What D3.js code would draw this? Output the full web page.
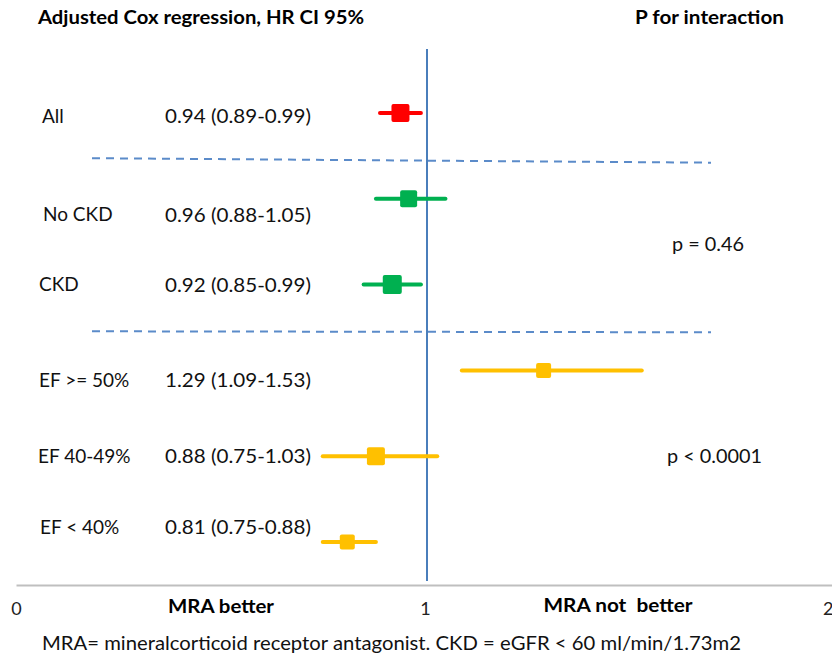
<!DOCTYPE html>
<html>
<head>
<meta charset="utf-8">
<script src="https://cdn.jsdelivr.net/npm/d3@7"></script>
<style>
  html, body { margin: 0; padding: 0; background: #fff; }
  svg { display: block; font-family: Lato, "Open Sans", sans-serif; }
</style>
</head>
<body>
<svg id="chart" width="832" height="659"></svg>
<script>
// ---- data ----
const categories = ["All", "No CKD", "CKD", "EF >= 50%", "EF 40-49%", "EF < 40%"];
const hr    = [0.94, 0.96, 0.92, 1.29, 0.88, 0.81];
const lower = [0.89, 0.88, 0.85, 1.09, 0.75, 0.75];
const upper = [0.99, 1.05, 0.99, 1.53, 1.03, 0.88];
const groups = ["all", "ckd", "ckd", "ef", "ef", "ef"];
const tickValues = [0, 1, 2];
const pLabels = ["p = 0.46", "p < 0.0001"];

// ---- styles / layout ----
const groupColor = { all: "#ff0000", ckd: "#00b050", ef: "#ffc000" };
const markerSize = [18, 17, 19, 15, 18, 15];
const labelDy = [3, 16, 0, 10, 0, -15];
const labelX = [42, 43, 39, 39, 38, 40];

const svg = d3.select("#chart");
const x = d3.scaleLinear().domain([0, 2]).range([16, 834]);
const y = d3.scaleLinear().domain([0, 5]).range([113, 542]);

const fmt = d3.format(".2f");
const rows = categories.map((c, i) => ({
  cat: c, hr: hr[i], lo: lower[i], hi: upper[i], g: groups[i], i
}));

// title texts
svg.append("text").attr("x", 38).attr("y", 24)
  .attr("font-weight", "bold").attr("font-size", 18)
  .attr("textLength", 326).attr("lengthAdjust", "spacingAndGlyphs")
  .text("Adjusted Cox regression, HR CI 95%");
svg.append("text").attr("x", 635).attr("y", 24)
  .attr("font-weight", "bold").attr("font-size", 18)
  .attr("textLength", 149).attr("lengthAdjust", "spacingAndGlyphs")
  .text("P for interaction");

// axis
const axis = svg.append("g").attr("transform", "translate(0,585)")
  .call(d3.axisBottom(x).tickValues(tickValues).tickSize(0).tickPadding(17).tickFormat(d3.format("d")));
axis.select(".domain").attr("stroke", "#bfbfbf").attr("stroke-width", 2);
axis.selectAll(".tick text").attr("font-size", 18).attr("fill", "#222")
  .attr("font-family", "Lato, sans-serif")
  .attr("text-anchor", d => d === 2 ? "end" : "middle")
  .attr("dx", d => d === 2 ? -1 : 0);

// reference line at HR = 1
svg.append("line")
  .attr("x1", x(1) + 2).attr("x2", x(1) + 2)
  .attr("y1", 49).attr("y2", 581)
  .attr("stroke", "#4a7ebb").attr("stroke-width", 2);

// group separators
const seps = [0.55, 2.55];
seps.forEach((s, k) => {
  svg.append("line")
    .attr("x1", 92).attr("x2", 711)
    .attr("y1", y(s) - (k === 0 ? 2 : 0.5)).attr("y2", y(s) + (k === 0 ? 2.5 : 0.5))
    .attr("stroke", "#5b8bc9").attr("stroke-width", 2)
    .attr("stroke-dasharray", "8,6");
});

// CI lines
svg.selectAll("line.ci").data(rows).join("line").attr("class", "ci")
  .attr("x1", d => x(d.lo)).attr("x2", d => x(d.hi))
  .attr("y1", d => y(d.i)).attr("y2", d => y(d.i))
  .attr("stroke", d => groupColor[d.g]).attr("stroke-width", 4)
  .attr("stroke-linecap", "round");

// markers
svg.selectAll("rect.pt").data(rows).join("rect").attr("class", "pt")
  .attr("x", d => x(d.hr) - markerSize[d.i] / 2)
  .attr("y", d => y(d.i) - markerSize[d.i] / 2)
  .attr("width", d => markerSize[d.i]).attr("height", d => markerSize[d.i])
  .attr("rx", 2)
  .attr("fill", d => groupColor[d.g]);

// row labels
svg.selectAll("text.cat").data(rows).join("text").attr("class", "cat")
  .attr("x", d => labelX[d.i])
  .attr("y", d => y(d.i) + labelDy[d.i])
  .attr("dy", "0.35em").attr("font-size", 19).attr("fill", "#111")
  .text(d => d.cat);

svg.selectAll("text.val").data(rows).join("text").attr("class", "val")
  .attr("x", 165)
  .attr("y", d => y(d.i) + labelDy[d.i])
  .attr("dy", "0.35em").attr("font-size", 20).attr("fill", "#111")
  .attr("textLength", 146).attr("lengthAdjust", "spacingAndGlyphs")
  .text(d => `${fmt(d.hr)} (${fmt(d.lo)}-${fmt(d.hi)})`);

// p-values
svg.append("text").attr("x", 672).attr("y", 244).attr("dy", "0.35em")
  .attr("font-size", 19.5).attr("fill", "#111")
  .attr("textLength", 72).attr("lengthAdjust", "spacingAndGlyphs").text(pLabels[0]);
svg.append("text").attr("x", 667).attr("y", 456).attr("dy", "0.35em")
  .attr("font-size", 19.5).attr("fill", "#111")
  .attr("textLength", 95).attr("lengthAdjust", "spacingAndGlyphs").text(pLabels[1]);

// bottom direction labels
svg.append("text").attr("x", 221).attr("y", 607).attr("dy", "0.35em")
  .attr("text-anchor", "middle").attr("font-weight", "bold").attr("font-size", 18)
  .attr("textLength", 106).attr("lengthAdjust", "spacingAndGlyphs")
  .text("MRA better");
svg.append("text").attr("x", 618).attr("y", 606).attr("dy", "0.35em")
  .attr("text-anchor", "middle").attr("font-weight", "bold").attr("font-size", 18)
  .attr("textLength", 149).attr("lengthAdjust", "spacingAndGlyphs")
  .attr("xml:space", "preserve").style("white-space", "pre")
  .text("MRA not  better");

// footnote
svg.append("text").attr("x", 42).attr("y", 643).attr("dy", "0.35em")
  .attr("font-size", 19).attr("fill", "#111")
  .attr("textLength", 699).attr("lengthAdjust", "spacingAndGlyphs")
  .text("MRA= mineralcorticoid receptor antagonist. CKD = eGFR < 60 ml/min/1.73m2");
</script>
</body>
</html>
